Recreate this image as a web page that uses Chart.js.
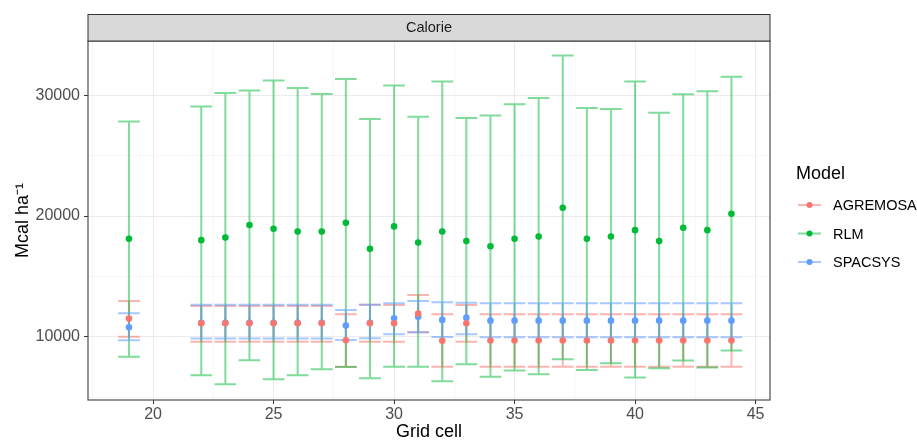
<!DOCTYPE html>
<html>
<head>
<meta charset="utf-8">
<script src="https://cdn.jsdelivr.net/npm/chart.js@4.4.1/dist/chart.umd.min.js"></script>
<style>
    html, body { margin: 0; padding: 0; background: #ffffff; }
</style>
</head>
<body>
<canvas id="GraficoCalorie" width="917" height="443"></canvas>
<script>
//
// DATOS
//
var celdas = [19, 22, 23, 24, 25, 26, 27, 28, 29, 30, 31, 32, 33, 34, 35, 36, 37, 38, 39, 40, 41, 42, 43, 44];

var rlmMedia = [18110, 18000, 18220, 19250, 18940, 18720, 18720, 19440, 17280, 19140, 17800, 18720, 17920, 17500, 18110, 18300, 20690, 18110, 18300, 18830, 17920, 19030, 18830, 20190];
var rlmSup   = [27830, 29080, 30190, 30390, 31220, 30610, 30110, 31350, 28030, 30810, 28220, 31140, 28110, 28330, 29250, 29780, 33300, 28940, 28860, 31140, 28560, 30080, 30330, 31530];
var rlmInf   = [8340, 6800, 6050, 8040, 6470, 6800, 7300, 7480, 6560, 7520, 7520, 6300, 7720, 6690, 7190, 6890, 8130, 7250, 7800, 6610, 7380, 8020, 7450, 8850];

var agrMedia = [11500, 11110, 11110, 11110, 11110, 11110, 11110, 9700, 11110, 11110, 11910, 9660, 11110, 9680, 9680, 9680, 9680, 9680, 9680, 9680, 9680, 9680, 9680, 9680];
var agrSup   = [12960, 12550, 12550, 12550, 12550, 12550, 12550, 11855, 12650, 12630, 13450, 11850, 12630, 11855, 11855, 11855, 11855, 11855, 11855, 11855, 11855, 11855, 11855, 11855];
var agrInf   = [10000, 9590, 9590, 9590, 9590, 9590, 9590, 7520, 9590, 9590, 10365, 7520, 9590, 7520, 7520, 7520, 7520, 7520, 7520, 7520, 7520, 7520, 7520, 7520];

var spaMedia = [10780, 11150, 11150, 11150, 11150, 11150, 11150, 10920, 11150, 11520, 11660, 11390, 11580, 11330, 11330, 11330, 11330, 11330, 11330, 11330, 11330, 11330, 11330, 11330];
var spaSup   = [11940, 12650, 12650, 12650, 12650, 12650, 12650, 12210, 12650, 12770, 12960, 12850, 12820, 12770, 12770, 12770, 12770, 12770, 12770, 12770, 12770, 12770, 12770, 12770];
var spaInf   = [9700, 9850, 9850, 9850, 9850, 9850, 9850, 9730, 9870, 10200, 10365, 9980, 10200, 9950, 9950, 9950, 9950, 9950, 9950, 9950, 9950, 9950, 9950, 9950];

var ticksX = [17.5, 20, 22.5, 25, 27.5, 30, 32.5, 35, 37.5, 40, 42.5, 45];
var ticksY = [5000, 10000, 15000, 20000, 25000, 30000];

var modelos = [
    { nombre: "AGREMOSA", color: "#F8766D", barra: "rgba(248,118,109,0.55)", media: agrMedia, sup: agrSup, inf: agrInf },
    { nombre: "RLM", color: "#00BA38", barra: "rgba(0,186,56,0.5)", media: rlmMedia, sup: rlmSup, inf: rlmInf },
    { nombre: "SPACSYS", color: "#619CFF", barra: "rgba(97,156,255,0.55)", media: spaMedia, sup: spaSup, inf: spaInf }
];

var FUENTE = '"Liberation Sans", Arial, sans-serif';

FNPuntos = function (m) {
    return celdas.map(function (c, i) { return { x: c, y: m.media[i] }; });
}

//
// BARRAS DE ERROR, TIRA Y LEYENDA
//
var pluginBarras = {
    id: "barrasError",
    beforeDatasetsDraw: function (chart) {
        var ctx = chart.ctx, sx = chart.scales.x, sy = chart.scales.y;
        ctx.save();
        modelos.forEach(function (m) {
            ctx.strokeStyle = m.barra;
            ctx.lineWidth = 2;
            celdas.forEach(function (c, i) {
                var x = sx.getPixelForValue(c);
                var x0 = sx.getPixelForValue(c - 0.45), x1 = sx.getPixelForValue(c + 0.45);
                var ys = sy.getPixelForValue(m.sup[i]), yi = sy.getPixelForValue(m.inf[i]);
                ctx.beginPath();
                ctx.moveTo(x, ys); ctx.lineTo(x, yi);
                ctx.moveTo(x0, ys); ctx.lineTo(x1, ys);
                ctx.moveTo(x0, yi); ctx.lineTo(x1, yi);
                ctx.stroke();
            });
        });
        ctx.restore();
    },
    afterDraw: function (chart) {
        var ctx = chart.ctx, a = chart.chartArea;
        ctx.save();
        // borde del panel
        ctx.strokeStyle = "#4D4D4D";
        ctx.lineWidth = 1.2;
        ctx.strokeRect(a.left, a.top, a.right - a.left, a.bottom - a.top);
        // tira superior
        ctx.fillStyle = "#D9D9D9";
        ctx.fillRect(a.left, 14.5, a.right - a.left, a.top - 14.5);
        ctx.strokeStyle = "#333333";
        ctx.lineWidth = 1;
        ctx.strokeRect(a.left, 14.5, a.right - a.left, a.top - 14.5);
        ctx.fillStyle = "#1A1A1A";
        ctx.font = "14.5px " + FUENTE;
        ctx.textAlign = "center";
        ctx.textBaseline = "middle";
        ctx.fillText("Calorie", (a.left + a.right) / 2, (14.5 + a.top) / 2 + 0.5);
        // leyenda
        ctx.textAlign = "left";
        ctx.fillStyle = "#000000";
        ctx.font = "18px " + FUENTE;
        ctx.fillText("Model", 796, 174);
        ctx.font = "14.5px " + FUENTE;
        modelos.forEach(function (m, k) {
            var y = 205 + k * 28.5;
            ctx.strokeStyle = m.barra;
            ctx.lineWidth = 2;
            ctx.beginPath(); ctx.moveTo(798, y); ctx.lineTo(821, y); ctx.stroke();
            ctx.fillStyle = m.color;
            ctx.beginPath(); ctx.arc(809.5, y, 3, 0, Math.PI * 2); ctx.fill();
            ctx.fillStyle = "#000000";
            ctx.fillText(m.nombre, 833, y + 1);
        });
        ctx.restore();
    }
};

// el dataset 0 (AGREMOSA) queda dibujado encima
var datasets = modelos.map(function (m) {
    return {
        label: m.nombre,
        data: FNPuntos(m),
        backgroundColor: m.color,
        borderWidth: 0,
        pointRadius: 3.3
    };
});

new Chart(document.getElementById("GraficoCalorie"), {
    type: "scatter",
    data: { datasets: datasets },
    plugins: [pluginBarras],
    options: {
        responsive: false,
        animation: false,
        layout: { padding: { left: 12, top: 41, right: 147, bottom: 0 } },
        plugins: { legend: { display: false }, tooltip: { enabled: false } },
        scales: {
            x: {
                type: "linear",
                min: 17.3,
                max: 45.6,
                afterBuildTicks: function (s) { s.ticks = ticksX.map(function (v) { return { value: v }; }); },
                afterFit: function (s) { s.height = 43; },
                border: { display: false },
                grid: {
                    color: function (c) { return c.tick && c.tick.value % 5 === 0 ? "#EBEBEB" : "#F3F3F3"; },
                    lineWidth: function (c) { return c.tick && c.tick.value % 5 === 0 ? 1 : 0.7; },
                    tickColor: function (c) { return c.tick && c.tick.value % 5 === 0 ? "#333333" : "rgba(0,0,0,0)"; },
                    tickLength: 4
                },
                ticks: {
                    autoSkip: false,
                    maxRotation: 0,
                    padding: 1,
                    color: "#4D4D4D",
                    font: { family: FUENTE, size: 16 },
                    callback: function (v) { return v % 5 === 0 ? String(v) : ""; }
                },
                title: { display: true, text: "Grid cell", color: "#000000", font: { family: FUENTE, size: 18 }, padding: { top: 0, bottom: 0 } }
            },
            y: {
                min: 4755,
                max: 34500,
                afterBuildTicks: function (s) { s.ticks = ticksY.map(function (v) { return { value: v }; }); },
                afterFit: function (s) { s.width = 76; },
                border: { display: false },
                grid: {
                    color: function (c) { return c.tick && c.tick.value % 10000 === 0 ? "#EBEBEB" : "#F3F3F3"; },
                    lineWidth: function (c) { return c.tick && c.tick.value % 10000 === 0 ? 1 : 0.7; },
                    tickColor: function (c) { return c.tick && c.tick.value % 10000 === 0 ? "#333333" : "rgba(0,0,0,0)"; },
                    tickLength: 4
                },
                ticks: {
                    autoSkip: false,
                    padding: 4,
                    color: "#4D4D4D",
                    font: { family: FUENTE, size: 16 },
                    callback: function (v) { return v % 10000 === 0 ? String(v) : ""; }
                },
                title: { display: true, text: "Mcal ha\u207B\u00B9", color: "#000000", font: { family: FUENTE, size: 18 }, padding: { top: 0, bottom: 0 } }
            }
        }
    }
});
</script>
</body>
</html>
